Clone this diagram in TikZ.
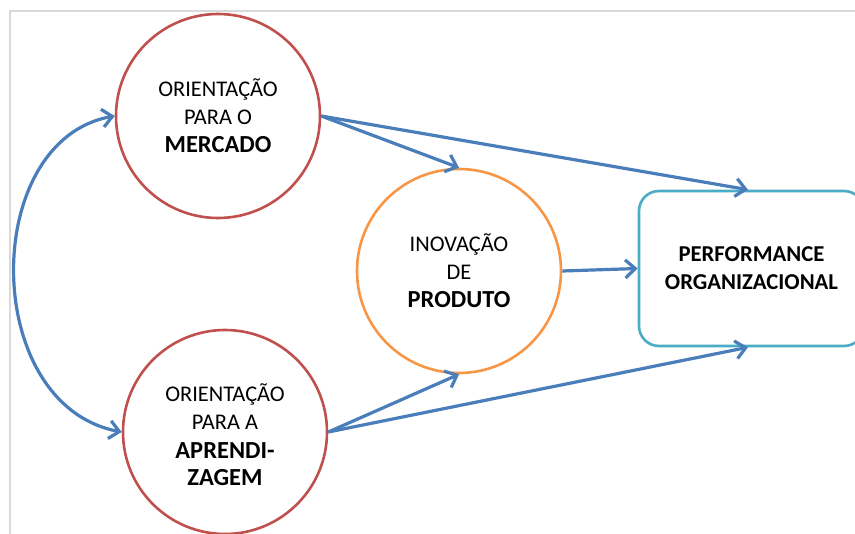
\documentclass[tikz,border=0pt]{standalone}
\usepackage{fontspec}
\setmainfont{Carlito}
\usetikzlibrary{arrows.meta}
\definecolor{arrowblue}{HTML}{4A7EBB}
\definecolor{circred}{HTML}{C0504D}
\definecolor{circorange}{HTML}{F79646}
\definecolor{boxcyan}{HTML}{4BACC6}
\definecolor{framegray}{HTML}{D9D9D9}
\newcommand{\bigb}[1]{{\fontsize{24.5}{29.5}\selectfont\bfseries #1}}
\tikzset{
  circnode/.style={circle, draw, line width=2.6pt, minimum size=204pt, inner sep=0pt, align=center, font=\fontsize{22.4}{27.5}\selectfont},
  perfbox/.style={rectangle, rounded corners=20pt, draw=boxcyan, line width=2.6pt, minimum width=225pt, minimum height=155pt, align=center, font=\fontsize{22.7}{28}\selectfont\bfseries},
  conn/.style={draw=arrowblue, line width=3.2pt, -{Straight Barb[length=10pt,width=18pt,line width=3.2pt]}},
  dconn/.style={draw=arrowblue, line width=3.2pt, {Straight Barb[length=10pt,width=18pt,line width=3.2pt]}-{Straight Barb[length=10pt,width=18pt,line width=3.2pt]}}
}
\begin{document}
\begin{tikzpicture}[x=1pt,y=-1pt]
\useasboundingbox (0,0) rectangle (855,534);
\clip (0,0) rectangle (855,534);
\fill[white] (0,0) rectangle (855,534);
\draw[framegray, line width=2pt] (10,540) -- (10,11) -- (860,11);
\node[circnode, draw=circred] (m) at (218,116) {ORIENTAÇÃO\\PARA O\\[1pt]\bigb{MERCADO}};
\node[circnode, draw=circred] (a) at (225,432) {};
\node[align=center, font=\fontsize{22.4}{27.5}\selectfont] (at) at (225,435) {ORIENTAÇÃO\\PARA A\\[1.5pt]\bigb{APRENDI-}\\\bigb{ZAGEM}};
\node[circnode, draw=circorange, fill=white] (i) at (459,271) {INOVAÇÃO\\DE\\[1pt]\bigb{PRODUTO}};
\node[perfbox] (p) at (751.5,268.5) {PERFORMANCE\\ORGANIZACIONAL};
\draw[conn] (m.east) -- (i.north);
\draw[conn] (m.east) -- (p.north -| 748,0);
\draw[conn] (i.east) -- (p.west);
\draw[conn] (a.east) -- (i.south);
\draw[conn] (a.east) -- (p.south -| 748,0);
\draw[dconn] (m.west) .. controls (-20,140) and (-20,405) .. (a.west);
\end{tikzpicture}
\end{document}
